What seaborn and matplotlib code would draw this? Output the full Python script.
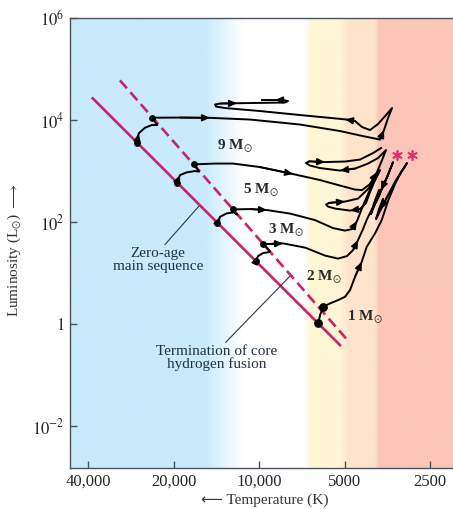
import numpy as np
import matplotlib
matplotlib.use('Agg')
import matplotlib.pyplot as plt
import seaborn as sns

# evolutionary tracks: log10(T / K) and log10(L / Lsun)
logT_9 = [4.4306, 4.4236, 4.4014, 4.3778, 4.3581, 4.3778, 4.2782, 4.1725, 4.0317, 3.8556,
          3.7148, 3.6268, 3.5740, 3.5599, 3.5458, 3.5317, 3.5528, 3.5810, 3.6092, 3.6373,
          3.6620, 3.6972, 3.8556, 3.9965, 4.1197, 4.1514, 4.1549, 4.1373, 4.0775, 3.9085,
          3.8979, 3.9155, 3.9437, 3.9894]
logL_9 = [3.5431, 3.7392, 3.8490, 3.9020, 3.9020, 4.0451, 4.0490, 4.0431, 4.0098, 3.9118,
          3.7843, 3.6765, 3.6176, 3.8039, 4.0392, 4.2353, 4.0980, 3.9216, 3.8039, 3.8627,
          3.9804, 4.0137, 4.0980, 4.1765, 4.2353, 4.2647, 4.3039, 4.3235, 4.3294, 4.3431,
          4.3725, 4.3922, 4.3922, 4.3922]

logT_5 = [4.2898, 4.2782, 4.2546, 4.2254, 4.2113, 4.2278, 4.1549, 4.0916, 3.9965, 3.8803,
          3.7852, 3.7148, 3.6620, 3.6373, 3.6092, 3.5845, 3.5669, 3.5528, 3.5810, 3.6162,
          3.6620, 3.7148, 3.7852, 3.8204, 3.8345, 3.8240, 3.7676, 3.6972, 3.6444, 3.5986,
          3.5704]
logL_5 = [2.7706, 2.9216, 2.9745, 3.0000, 2.9902, 3.1314, 3.1471, 3.1471, 3.0784, 2.9412,
          2.8235, 2.7157, 2.6372, 2.6274, 2.7451, 2.9804, 3.2157, 3.4118, 3.2549, 3.1471,
          3.0490, 3.0098, 3.0588, 3.1078, 3.1569, 3.1902, 3.1765, 3.1863, 3.2255, 3.3529,
          3.4510]

logT_3 = [4.1468, 4.1373, 4.1137, 4.0880, 4.0775, 4.0926, 4.0317, 3.9718, 3.8909, 3.8028,
          3.7395, 3.6972, 3.6726, 3.6550, 3.6373, 3.6162, 3.5951, 3.5740, 3.5916, 3.6092,
          3.6233, 3.6444, 3.6796, 3.7324, 3.7571, 3.7641, 3.7535, 3.6972, 3.6514, 3.6162,
          3.5881]
logL_3 = [1.9745, 2.1039, 2.1706, 2.1902, 2.1470, 2.2490, 2.2549, 2.2353, 2.1667, 2.0392,
          1.8823, 1.8333, 1.8627, 2.0196, 2.2745, 2.5490, 2.8039, 3.0196, 2.8235, 2.5882,
          2.3725, 2.2549, 2.2255, 2.2647, 2.3039, 2.3431, 2.3765, 2.4020, 2.4608, 2.6471,
          2.8823]

logT_2 = [4.0106, 4.0035, 3.9859, 3.9648, 3.9613, 3.9849, 3.9155, 3.8380, 3.7676, 3.7218,
          3.6902, 3.6690, 3.6514, 3.6338, 3.6197, 3.6021, 3.5810, 3.5564, 3.5282, 3.5458,
          3.5704, 3.5916, 3.6057, 3.5951, 3.5775]
logL_2 = [1.2412, 1.3333, 1.3921, 1.4117, 1.4314, 1.5686, 1.5823, 1.5000, 1.3431, 1.2843,
          1.3333, 1.4510, 1.6470, 1.8627, 2.0588, 2.2549, 2.4706, 2.7843, 3.1765, 2.9216,
          2.6274, 2.3529, 2.1568, 2.3725, 2.6274]

logT_1 = [3.7912, 3.7852, 3.7736, 3.7500, 3.7218, 3.6972, 3.6796, 3.6620, 3.6384, 3.6208,
          3.5916, 3.5680, 3.5447, 3.5212, 3.5000, 3.4789, 3.4895, 3.5176, 3.5458, 3.5704,
          3.5881, 3.5775, 3.5634]
logL_1 = [0.0137, 0.1764, 0.3392, 0.4059, 0.4706, 0.5353, 0.6666, 0.9274, 1.2215, 1.5157,
          1.7784, 2.0392, 2.4314, 2.7451, 2.9804, 3.1569, 3.0588, 2.8235, 2.5294, 2.2549,
          2.0588, 2.2549, 2.4510]

# index of the end of core hydrogen burning on each track, and where arrows sit
tams_index = [5, 5, 5, 5, 2]
arrow_index = [[0, 6, 12, 20, 27, 31], [0, 8, 14, 20, 25], [0, 6, 12, 21, 26],
               [0, 5, 11, 19], [7, 18]]

# zero-age main sequence and termination of core hydrogen fusion
zams_logT = [4.5856, 3.7148]
zams_logL = [4.4255, -0.412]
tams_logT = [4.5010, 3.6937]
tams_logL = [4.849, -0.280]

# helium flash markers
star_logT = [3.5141, 3.4613]
star_logL = [3.314, 3.314]

mass_labels = ['9 M$_{\\odot}$', '5 M$_{\\odot}$', '3 M$_{\\odot}$', '2 M$_{\\odot}$', '1 M$_{\\odot}$']
mass_logT = [4.0845, 3.9930, 3.9049, 3.7712, 3.6268]
mass_logL = [3.490, 2.627, 1.843, 0.921, 0.137]

x_ticks = [40000, 20000, 10000, 5000, 2500]
x_ticklabels = ['40,000', '20,000', '10,000', '5000', '2500']
y_ticks = [1e-2, 1, 1e2, 1e4, 1e6]
y_ticklabels = ['$10^{-2}$', '$1$', '$10^{2}$', '$10^{4}$', '$10^{6}$']

plt.rcParams['font.family'] = ['Liberation Serif', 'DejaVu Sans']
plt.rcParams['mathtext.fontset'] = 'stix'

W, H = 453, 509
fig = plt.figure(figsize=(W / 100, H / 100), dpi=100)
rect = [70 / W, 41 / H, 383 / W, 450 / H]

# colour bands behind the diagram
bg = fig.add_axes(rect, zorder=0)
stops = [0, .3525, .4517, .6136, .6292, .7050, .7285, .7963, .8068, 1]
cols = np.array([[200, 234, 251], [200, 234, 251], [255, 255, 255], [255, 255, 255],
                 [255, 246, 214], [255, 246, 214], [253, 228, 202], [253, 228, 202],
                 [251, 198, 183], [251, 198, 183]]) / 255
xs = np.linspace(0, 1, 800)
grad = np.stack([np.interp(xs, stops, cols[:, k]) for k in range(3)], axis=-1)[None, :, :]
bg.imshow(grad, aspect='auto', extent=[0, 1, 0, 1])
bg.axis('off')

ax = fig.add_axes(rect, zorder=1)
ax.patch.set_alpha(0)
ax.set_xscale('log')
ax.set_yscale('log')

mag = '#c8246a'
sns.lineplot(x=10 ** np.array(zams_logT), y=10 ** np.array(zams_logL), color=mag, lw=1.9, ax=ax)
sns.lineplot(x=10 ** np.array(tams_logT), y=10 ** np.array(tams_logL), color=mag, lw=1.9,
             linestyle=(0, (4, 2)), ax=ax)

tracks = [(logT_9, logL_9), (logT_5, logL_5), (logT_3, logL_3), (logT_2, logL_2), (logT_1, logL_1)]
for k, (lt, ll) in enumerate(tracks):
    T = 10 ** np.array(lt)
    L = 10 ** np.array(ll)
    sns.lineplot(x=T, y=L, sort=False, estimator=None, color='black', lw=1.4,
                 solid_joinstyle='round', ax=ax, zorder=4)
    i = tams_index[k]
    sns.scatterplot(x=T[[0, i]], y=L[[0, i]], color='black', s=40 if k == 4 else 24,
                    linewidth=0, ax=ax, zorder=5)
    for j in arrow_index[k]:
        ax.annotate('', xy=(T[j + 1], L[j + 1]), xytext=(T[j], L[j]), zorder=5,
                    arrowprops=dict(arrowstyle='-|>,head_length=0.45,head_width=0.2',
                                    color='black', lw=1.2, shrinkA=0, shrinkB=0))

ax.scatter(10 ** np.array(star_logT), 10 ** np.array(star_logL), marker=(6, 2, 0), s=45,
           color='#e0306e', linewidths=1.2, zorder=6)

for lab, lt, ll in zip(mass_labels, mass_logT, mass_logL):
    ax.text(10 ** lt, 10 ** ll, lab, ha='center', va='center', fontsize=11,
            fontweight='bold', color='#2a2a2a', zorder=6)

ax.annotate('Zero-age\nmain sequence', xy=(16270, 206), xytext=(22680, 18.0),
            ha='center', va='center', fontsize=11, color='#203040', linespacing=0.95,
            arrowprops=dict(arrowstyle='-', color='#303840', lw=0.8, shrinkA=0, shrinkB=0,
                            relpos=(0.55, 1.0)))
ax.annotate('Termination of core\nhydrogen fusion', xy=(7780, 8.73), xytext=(14060, 0.215),
            ha='center', va='center', fontsize=11, color='#203040', linespacing=0.95,
            arrowprops=dict(arrowstyle='-', color='#303840', lw=0.8, shrinkA=0, shrinkB=0,
                            relpos=(0.55, 1.0)))

ax.set_xlim(46300, 2075)
ax.set_ylim(10 ** -2.82, 1e6)
ax.minorticks_off()
ax.set_xticks(x_ticks)
ax.set_xticklabels(x_ticklabels)
ax.set_yticks(y_ticks)
ax.set_yticklabels(y_ticklabels)
ax.set_xlabel('')
ax.set_ylabel('')

spine_col = '#4b545c'
for s in ['left', 'bottom', 'top']:
    ax.spines[s].set_color(spine_col)
    ax.spines[s].set_linewidth(1.0)
ax.spines['right'].set_visible(False)
ax.tick_params(axis='both', which='both', direction='in', length=5, width=1, color=spine_col,
               labelsize=12, labelcolor='#262626', top=False, right=False)
ax.tick_params(axis='y', pad=4)
ax.tick_params(axis='x', pad=4)

fig.text(265 / W, 1 - 500 / H, '\u27f5 Temperature (K)', ha='center', va='center',
         fontsize=11, color='#333333')
fig.text(14 / W, 1 - 250 / H, 'Luminosity (L$_{\\odot}$) $\\longrightarrow$', rotation=90,
         ha='center', va='center', fontsize=11, color='#333333')

fig.savefig('out.png', dpi=100)
